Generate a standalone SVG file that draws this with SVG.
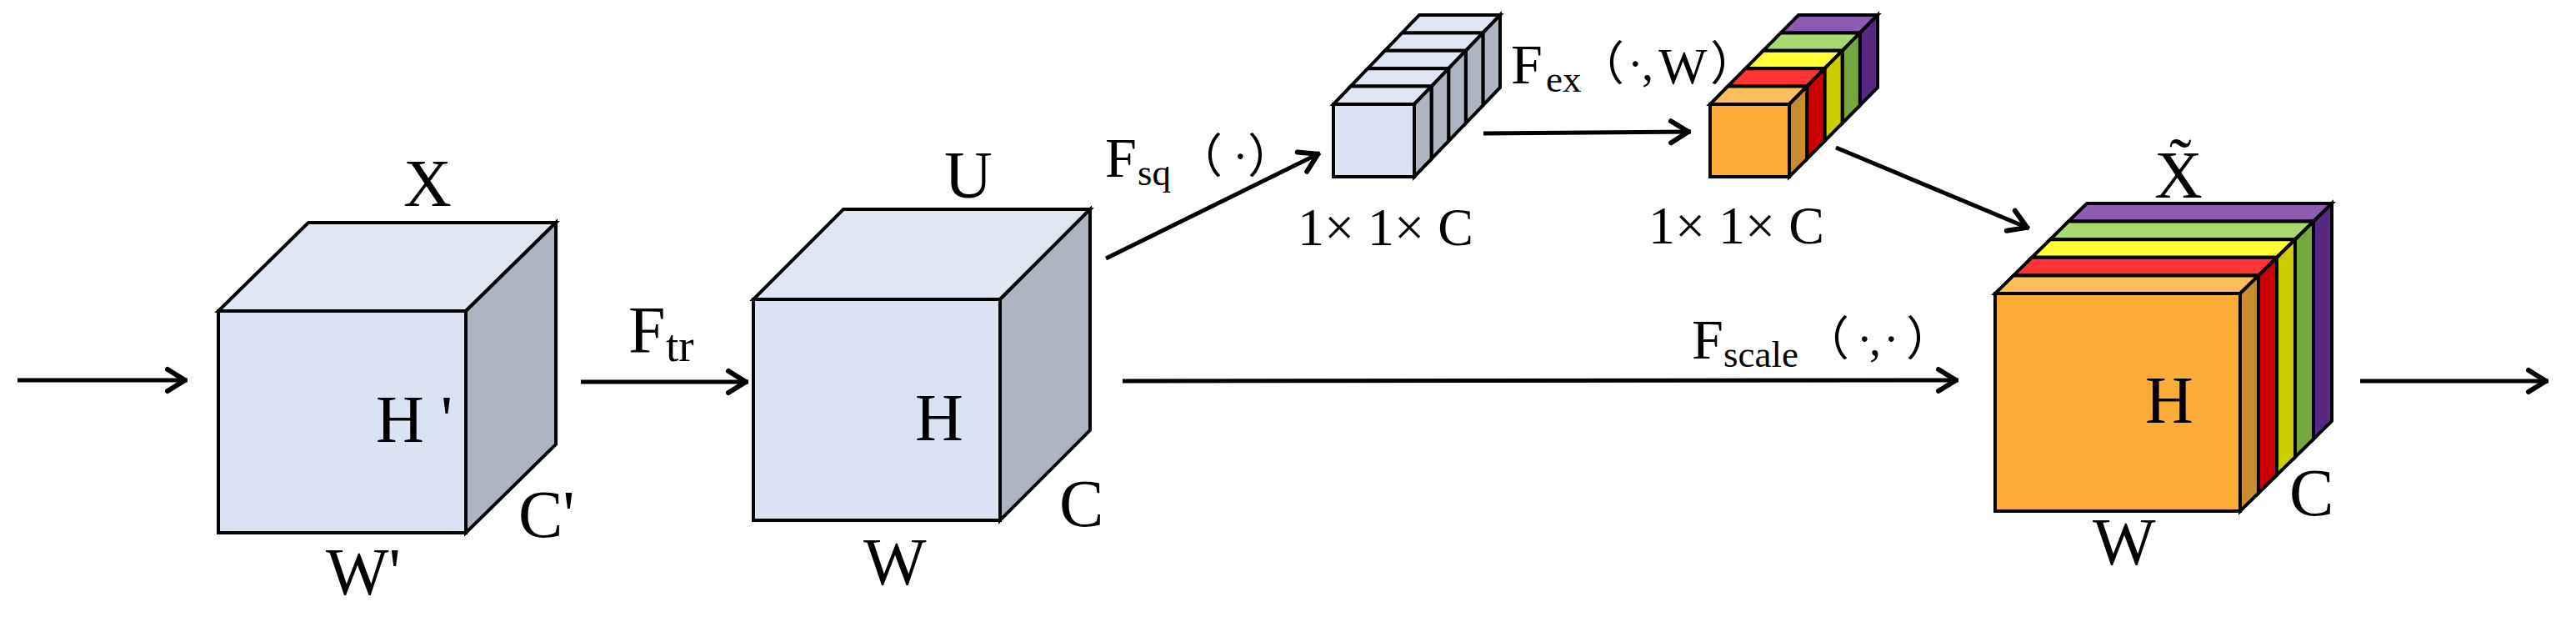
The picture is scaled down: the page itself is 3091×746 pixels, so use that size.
<svg xmlns="http://www.w3.org/2000/svg" width="3091" height="746" viewBox="0 0 3091 746">
<style>
.bg{fill:#fff}
.e{stroke:#000;stroke-width:4;stroke-linejoin:miter}
.bf{fill:#dae3f3}.bt{fill:#dfe6f4}.bs{fill:#adb4c2}
.of{fill:#fcad38}.ot{fill:#fdbe5e}.os{fill:#c98c2e}
.rt{fill:#ff3535}.rs{fill:#cc0000}
.yt{fill:#ffff33}.ys{fill:#cccc00}
.gt{fill:#a8da70}.gs{fill:#76a63e}
.pt{fill:#8d5bb1}.ps{fill:#57287f}
.ln{stroke:#000;stroke-width:5;fill:none;marker-end:url(#ah)}
text{font-family:"Liberation Serif","Times New Roman","Noto Sans CJK SC",serif;fill:#000}
.L{font-size:80px}
.M{font-size:68px}
.S{font-size:45px}
.D{font-size:64px}
.P{font-size:56px;font-family:"Noto Sans CJK SC","Liberation Serif",sans-serif}
.r{font-family:"Liberation Serif","Times New Roman",serif}
</style>
<defs>
<marker id="ah" markerUnits="userSpaceOnUse" markerWidth="40" markerHeight="40" viewBox="-30 -20 40 40" refX="0" refY="0" orient="auto">
<path d="M-24,-13 L-3,0 L-24,13" fill="none" stroke="#000" stroke-width="6" stroke-linecap="round" stroke-linejoin="round"/>
</marker>
</defs>
<rect class="bg" x="0" y="0" width="3091" height="746"/>

<g id="connectors">
<line class="ln" x1="21" y1="456" x2="225" y2="456"/>
<line class="ln" x1="697" y1="458" x2="898" y2="458"/>
<line class="ln" x1="1327" y1="310" x2="1584" y2="183.5"/>
<line class="ln" x1="1347" y1="457" x2="2350" y2="456"/>
<line class="ln" x1="1780" y1="160" x2="2029" y2="158"/>
<line class="ln" x1="2203" y1="177" x2="2435" y2="274"/>
<line class="ln" x1="2832" y1="457" x2="3058" y2="457"/>
</g>

<g id="cube-X">
<polygon class="e bt" points="262,373 559,373 667,267 370,267"/>
<polygon class="e bs" points="559,373 667,267 667,533 559,639"/>
<rect class="e bf" x="262" y="373" width="297" height="266"/>
<text class="L" x="484" y="247">X</text>
<text class="L" x="451" y="530">H '</text>
<text class="L" x="622" y="644">C'</text>
<text class="L" x="391" y="713">W'</text>
</g>

<g id="label-Ftr">
<text class="L" x="754" y="423">F<tspan x="799" y="433" style="font-size:55px">tr</tspan></text>
</g>

<g id="cube-U">
<polygon class="e bt" points="904,359 1200,359 1308,251 1012,251"/>
<polygon class="e bs" points="1200,359 1308,251 1308,516 1200,624"/>
<rect class="e bf" x="904" y="359" width="296" height="265"/>
<text class="L" x="1133" y="237">U</text>
<text class="L" x="1098" y="528">H</text>
<text class="L" x="1271" y="631">C</text>
<text class="L" x="1036" y="701">W</text>
</g>

<g id="label-Fsq">
<text class="M" x="1326" y="212">F<tspan class="S" x="1365" y="222">sq</tspan></text>
<text class="P" y="207"><tspan x="1411">（</tspan><tspan class="r" x="1479">·</tspan><tspan x="1497">）</tspan></text>
</g>

<g id="squeeze-stack">
<polygon class="e bt" points="1682.4,39.4 1779.4,39.4 1800,18 1703,18"/>
<polygon class="e bs" points="1779.4,39.4 1800,18 1800,105 1779.4,126.4"/>
<polygon class="e bt" points="1661.8,60.8 1758.8,60.8 1779.4,39.4 1682.4,39.4"/>
<polygon class="e bs" points="1758.8,60.8 1779.4,39.4 1779.4,126.4 1758.8,147.8"/>
<polygon class="e bt" points="1641.2,82.2 1738.2,82.2 1758.8,60.8 1661.8,60.8"/>
<polygon class="e bs" points="1738.2,82.2 1758.8,60.8 1758.8,147.8 1738.2,169.2"/>
<polygon class="e bt" points="1620.6,103.6 1717.6,103.6 1738.2,82.2 1641.2,82.2"/>
<polygon class="e bs" points="1717.6,103.6 1738.2,82.2 1738.2,169.2 1717.6,190.6"/>
<polygon class="e bt" points="1600,125 1697,125 1717.6,103.6 1620.6,103.6"/>
<polygon class="e bs" points="1697,125 1717.6,103.6 1717.6,190.6 1697,212"/>
<rect class="e bf" x="1600" y="125" width="97" height="87"/>
<text class="D" x="1557" y="294">1× 1× C</text>
</g>

<g id="label-Fex">
<text class="M" x="1813" y="100">F<tspan class="S" x="1855" y="110">ex</tspan></text>
<text class="P" y="96"><tspan x="1893">（</tspan><tspan class="r" x="1953">·</tspan><tspan class="r" x="1970">,</tspan><tspan class="r" x="1990" y="100" style="font-size:62px">W</tspan><tspan x="2052" y="96">）</tspan></text>
</g>

<g id="excite-stack">
<polygon class="e pt" points="2136.8,39.4 2231.8,39.4 2253,18 2158,18"/>
<polygon class="e ps" points="2231.8,39.4 2253,18 2253,105 2231.8,126.4"/>
<polygon class="e gt" points="2115.6,60.8 2210.6,60.8 2231.8,39.4 2136.8,39.4"/>
<polygon class="e gs" points="2210.6,60.8 2231.8,39.4 2231.8,126.4 2210.6,147.8"/>
<polygon class="e yt" points="2094.4,82.2 2189.4,82.2 2210.6,60.8 2115.6,60.8"/>
<polygon class="e ys" points="2189.4,82.2 2210.6,60.8 2210.6,147.8 2189.4,169.2"/>
<polygon class="e rt" points="2073.2,103.6 2168.2,103.6 2189.4,82.2 2094.4,82.2"/>
<polygon class="e rs" points="2168.2,103.6 2189.4,82.2 2189.4,169.2 2168.2,190.6"/>
<polygon class="e ot" points="2052,125 2147,125 2168.2,103.6 2073.2,103.6"/>
<polygon class="e os" points="2147,125 2168.2,103.6 2168.2,190.6 2147,212"/>
<rect class="e of" x="2052" y="125" width="95" height="87"/>
<text class="D" x="1978" y="292">1× 1× C</text>
</g>

<g id="label-Fscale">
<text class="M" x="2030" y="430">F<tspan class="S" x="2068" y="440">scale</tspan></text>
<text class="P" y="426"><tspan x="2163">（</tspan><tspan class="r" x="2228">·</tspan><tspan class="r" x="2243">,</tspan><tspan class="r" x="2260">·</tspan><tspan x="2287">）</tspan></text>
</g>

<g id="cube-Xtilde">
<polygon class="e pt" points="2482,265.6 2776,265.6 2798,244 2504,244"/>
<polygon class="e ps" points="2776,265.6 2798,244 2798,505 2776,526.6"/>
<polygon class="e gt" points="2460,287.2 2754,287.2 2776,265.6 2482,265.6"/>
<polygon class="e gs" points="2754,287.2 2776,265.6 2776,526.6 2754,548.2"/>
<polygon class="e yt" points="2438,308.8 2732,308.8 2754,287.2 2460,287.2"/>
<polygon class="e ys" points="2732,308.8 2754,287.2 2754,548.2 2732,569.8"/>
<polygon class="e rt" points="2416,330.4 2710,330.4 2732,308.8 2438,308.8"/>
<polygon class="e rs" points="2710,330.4 2732,308.8 2732,569.8 2710,591.4"/>
<polygon class="e ot" points="2394,352 2688,352 2710,330.4 2416,330.4"/>
<polygon class="e os" points="2688,352 2710,330.4 2710,591.4 2688,613"/>
<rect class="e of" x="2394" y="352" width="294" height="261"/>
<text class="L" x="2585" y="237">X&#x303;</text>
<text class="L" x="2574" y="507">H</text>
<text class="L" x="2747" y="618">C</text>
<text class="L" x="2511" y="677">W</text>
</g>
</svg>
